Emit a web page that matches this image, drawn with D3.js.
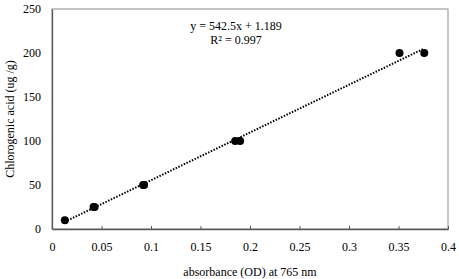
<!DOCTYPE html>
<html>
<head>
<meta charset="utf-8">
<script src="https://cdn.jsdelivr.net/npm/d3@7"></script>
<style>
  body { margin: 0; background: #fff; }
  text { font-family: "Liberation Serif", "Times New Roman", serif; fill: #000; }
</style>
</head>
<body>
<div id="chart"></div>
<script>
var absorbance = [0.013, 0.042, 0.043, 0.092, 0.093, 0.185, 0.19, 0.351, 0.376];
var concentration = [10, 25, 25, 50, 50, 100, 100, 200, 200];
var xTicks = [0, 0.05, 0.1, 0.15, 0.2, 0.25, 0.3, 0.35, 0.4];
var yTicks = [0, 50, 100, 150, 200, 250];
var slope = 542.5, intercept = 1.189;
var eqLines = ["y = 542.5x + 1.189", "R² = 0.997"];

var width = 459, height = 279;
var margin = { top: 9, right: 11, bottom: 50, left: 52 };

var svg = d3.select("#chart").append("svg")
    .attr("width", width)
    .attr("height", height);

var x = d3.scaleLinear().domain([0, 0.4]).range([margin.left, width - margin.right]);
var y = d3.scaleLinear().domain([0, 250]).range([height - margin.bottom, margin.top]);

// plot frame
svg.append("rect")
    .attr("x", margin.left)
    .attr("y", margin.top)
    .attr("width", x(0.4) - x(0))
    .attr("height", y(0) - y(250))
    .attr("fill", "none")
    .attr("stroke", "#8c8c8c")
    .attr("stroke-width", 1);

// x axis, ticks pointing inward
var xAxis = svg.append("g")
    .attr("transform", "translate(0," + y(0) + ")")
    .call(d3.axisBottom(x).tickValues(xTicks).tickSizeInner(-3).tickSizeOuter(0)
        .tickFormat(function(d) { return d3.format("")(d); }));
xAxis.select(".domain").attr("stroke", "#595959").attr("stroke-width", 1.3);
xAxis.selectAll(".tick line").attr("stroke", "#595959");
xAxis.selectAll(".tick text")
    .attr("y", 13)
    .attr("font-size", 12)
    .style("font-family", "Liberation Serif");

// y axis
var yAxis = svg.append("g")
    .attr("transform", "translate(" + x(0) + ",0)")
    .call(d3.axisLeft(y).tickValues(yTicks).tickSize(0));
yAxis.select(".domain").attr("stroke", "#595959").attr("stroke-width", 1.3);
yAxis.selectAll(".tick text")
    .attr("x", -11)
    .attr("font-size", 12)
    .style("font-family", "Liberation Serif");

// trendline
var xMin = d3.min(absorbance), xMax = d3.max(absorbance);
svg.append("line")
    .attr("x1", x(xMin))
    .attr("y1", y(slope * xMin + intercept))
    .attr("x2", x(xMax))
    .attr("y2", y(slope * xMax + intercept))
    .attr("stroke", "#000")
    .attr("stroke-width", 2)
    .attr("stroke-dasharray", "1.5,1.5");

// points
svg.selectAll(".dot")
    .data(absorbance)
    .enter().append("circle")
    .attr("class", "dot")
    .attr("cx", function(d) { return x(d); })
    .attr("cy", function(d, i) { return y(concentration[i]); })
    .attr("r", 4)
    .attr("fill", "#000");

// equation
svg.selectAll(".eq")
    .data(eqLines)
    .enter().append("text")
    .attr("class", "eq")
    .attr("x", 236)
    .attr("y", function(d, i) { return 30 + i * 14; })
    .attr("text-anchor", "middle")
    .attr("font-size", 12)
    .text(function(d) { return d; });

// axis titles
svg.append("text")
    .attr("x", (x(0) + x(0.4)) / 2)
    .attr("y", 276)
    .attr("text-anchor", "middle")
    .attr("font-size", 12)
    .text("absorbance (OD) at 765 nm");

svg.append("text")
    .attr("transform", "translate(14," + (y(125)) + ") rotate(-90)")
    .attr("text-anchor", "middle")
    .attr("font-size", 12)
    .text("Chlorogenic acid (ug /g)");
</script>
</body>
</html>
